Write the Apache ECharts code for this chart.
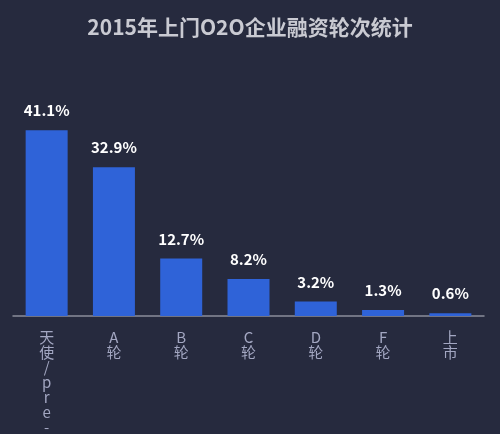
<!DOCTYPE html><html><head><meta charset="utf-8"><script src="https://cdn.jsdelivr.net/npm/echarts@6/dist/echarts.min.js"></script>
<style>html,body{margin:0;background:#262a3e}#c{width:500px;height:434px}</style></head><body><div id="c"></div><script>
const categories=['天使/pre-a','A轮','B轮','C轮','D轮','F轮','上市'];
const values=[41.1,32.9,12.7,8.2,3.2,1.3,0.6];
const chart=echarts.init(document.getElementById('c'));
chart.setOption({
backgroundColor:'#262a3e',
title:{text:'2015年上门O2O企业融资轮次统计',left:'center',top:12,textStyle:{color:'#c9cad2',fontSize:21,fontWeight:'bold',fontFamily:'Noto Sans CJK SC'}},
grid:{left:13,right:16,top:90,bottom:118,containLabel:false,outerBoundsMode:'none'},
xAxis:{type:'category',data:categories,axisTick:{show:false},axisLine:{lineStyle:{color:'#8a8d9a',width:1.5}},
axisLabel:{color:'#a3a7c2',fontSize:15,lineHeight:15,margin:14,fontFamily:'Noto Sans CJK SC',formatter:v=>v.split('').join('\n')}},
yAxis:{type:'value',min:0,max:50,show:false,splitLine:{show:false}},
series:[{type:'bar',data:values,barWidth:42,itemStyle:{color:'#2f63d8'},
label:{show:true,position:'top',distance:12,color:'#ffffff',fontSize:15,fontWeight:'bold',fontFamily:'Noto Sans CJK SC',formatter:p=>p.value.toFixed(1)+'%'}}]
});
</script></body></html>
